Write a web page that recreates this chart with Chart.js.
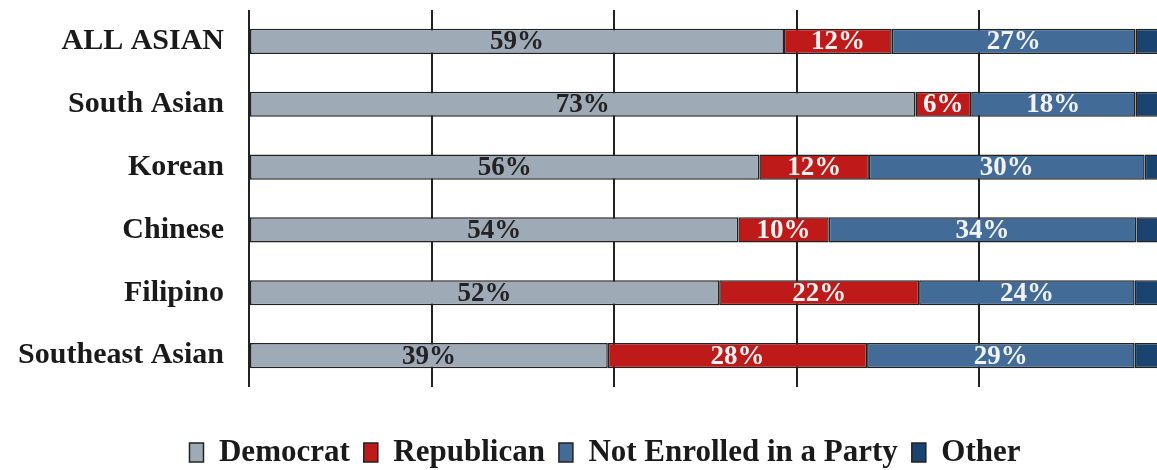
<!DOCTYPE html>
<html>
<head>
<meta charset="utf-8">
<script src="https://cdn.jsdelivr.net/npm/chart.js@4.4.0/dist/chart.umd.min.js"></script>
<style>
  html, body { margin: 0; padding: 0; background: #fff; overflow: hidden; }
  #wrap { width: 1208px; height: 470px; }
</style>
</head>
<body>
<div id="wrap"><canvas id="chart"></canvas></div>
<script>
// Data (share of voters, %)
const groups = ['ALL ASIAN', 'South Asian', 'Korean', 'Chinese', 'Filipino', 'Southeast Asian'];
const democrat = [58.6, 73.0, 55.9, 53.6, 51.5, 39.3];
const republican = [11.8, 6.1, 12.0, 9.9, 21.9, 28.4];
const notEnrolled = [26.7, 18.0, 30.2, 33.7, 23.6, 29.3];
const other = [2.9, 2.9, 1.8, 2.9, 2.9, 2.9];

const serif = '"Liberation Serif", "Times New Roman", serif';
const ink = '#1a1a1a';

// draws the rounded % in the middle of each segment
const segmentLabels = {
    id: 'segmentLabels',
    afterDatasetsDraw(chart) {
        const ctx = chart.ctx;
        ctx.save();
        ctx.font = 'bold 27px ' + serif;
        ctx.textAlign = 'center';
        ctx.textBaseline = 'middle';
        chart.data.datasets.forEach((ds, i) => {
            if (!ds.labelColor) return;
            chart.getDatasetMeta(i).data.forEach((bar, j) => {
                ctx.fillStyle = ds.labelColor;
                ctx.fillText(Math.round(ds.data[j]) + '%', (bar.x + bar.base) / 2, bar.y + 1);
            });
        });
        ctx.restore();
    }
};

// the source picture is cropped on the right, so its legend sits right of our centre
const legendShift = {
    id: 'legendShift',
    afterLayout(chart) {
        if (!chart.legend) return;
        chart.legend.left += 24;
        chart.legend.right += 24;
    }
};

function seg(label, data, color, labelColor) {
    return {
        label: label,
        data: data,
        backgroundColor: color,
        borderColor: '#222',
        borderWidth: 1.5,
        borderSkipped: false,
        barPercentage: 0.4,
        categoryPercentage: 1,
        labelColor: labelColor
    };
}

new Chart(document.getElementById('chart'), {
    type: 'bar',
    data: {
        labels: groups,
        datasets: [
            seg('Democrat', democrat, '#9eaab5', '#222'),
            seg('Republican', republican, '#be1a1a', '#f2f2f2'),
            seg('Not Enrolled in a Party', notEnrolled, '#426b97', '#f2f2f2'),
            seg('Other', other, '#1b4370', null)
        ]
    },
    options: {
        indexAxis: 'y',
        responsive: true,
        maintainAspectRatio: false,
        animation: false,
        layout: { padding: { left: 0, right: 46, top: 10, bottom: 0 } },
        scales: {
            x: {
                stacked: true,
                min: 0,
                max: 100,
                ticks: { display: false, stepSize: 20 },
                grid: { color: '#222', lineWidth: 2, drawTicks: false },
                border: { display: false },
                afterFit: (s) => { s.height = 36; }
            },
            y: {
                stacked: true,
                grid: { display: false, drawTicks: false },
                border: { display: false },
                ticks: { color: ink, padding: 25, font: { family: serif, size: 30, weight: 'bold' } },
                afterFit: (s) => {
                    s.width = 249;
                    s.paddingTop = 0;
                    s.paddingBottom = 0;
                }
            }
        },
        plugins: {
            legend: {
                position: 'bottom',
                maxHeight: 47,
                labels: {
                    boxWidth: 14,
                    boxHeight: 19,
                    padding: 14,
                    color: ink,
                    font: { family: serif, size: 31, weight: 'bold' }
                }
            },
            tooltip: { enabled: false }
        }
    },
    plugins: [segmentLabels, legendShift]
});
</script>
</body>
</html>
